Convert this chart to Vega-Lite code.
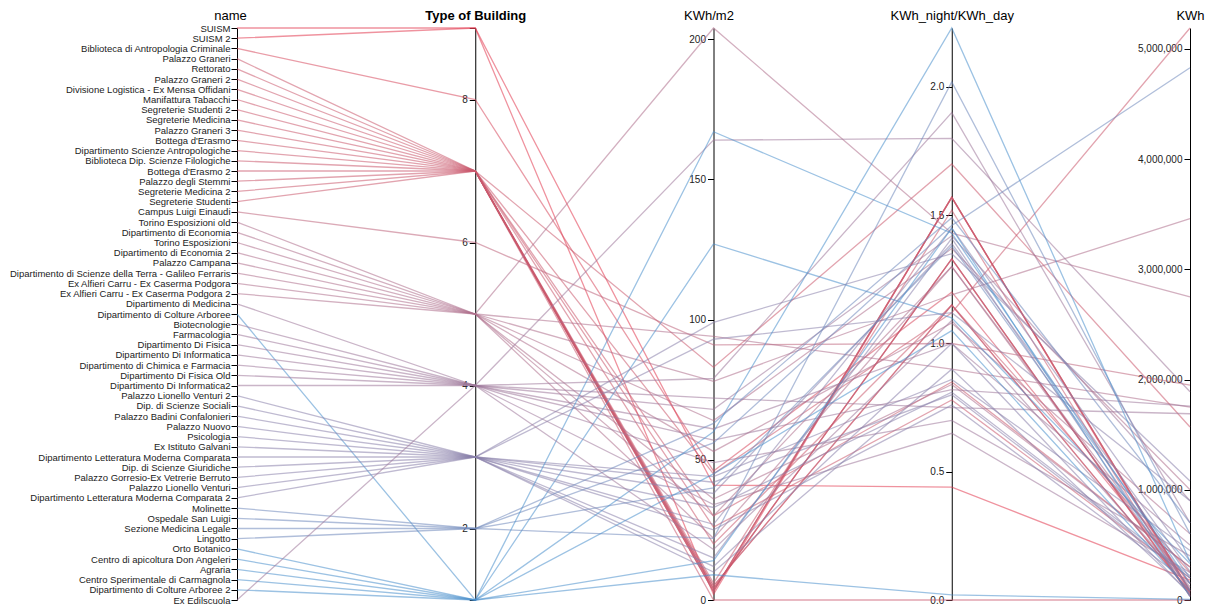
{
  "$schema": "https://vega.github.io/schema/vega-lite/v6.json",
  "autosize": "none",
  "width": 953,
  "height": 572,
  "padding": {"left": 237, "top": 28, "right": 20, "bottom": 4},
  "background": "white",
  "config": {
    "view": {"stroke": null},
    "font": "Liberation Sans",
    "axis": {"labelFont": "Liberation Sans", "titleFont": "Liberation Sans", "domainColor": "#000", "tickColor": "#000", "labelColor": "#222", "labelFontSize": 10, "labelLimit": 0, "tickSize": 6, "grid": false, "titleColor": "#000", "titleFontSize": 13, "titleFontWeight": "normal", "titleAngle": 0, "titleX": 0, "titleY": -6, "titleAlign": "center", "titleBaseline": "bottom", "labelPadding": 2}
  },
  "data": {"values": [
    {"name": "SUISM", "Type of Building": 9, "KWh/m2": 2, "KWh_night/KWh_day": 1.57, "KWh": 60000},
    {"name": "SUISM 2", "Type of Building": 9, "KWh/m2": 41, "KWh_night/KWh_day": 0.44, "KWh": 180000},
    {"name": "Biblioteca di Antropologia Criminale", "Type of Building": 8, "KWh/m2": 46, "KWh_night/KWh_day": 1.2, "KWh": 150000},
    {"name": "Palazzo Graneri", "Type of Building": 7, "KWh/m2": 3, "KWh_night/KWh_day": 1.57, "KWh": 80000},
    {"name": "Rettorato", "Type of Building": 7, "KWh/m2": 83, "KWh_night/KWh_day": 1.7, "KWh": 1570000},
    {"name": "Palazzo Graneri 2", "Type of Building": 7, "KWh/m2": 3, "KWh_night/KWh_day": 1.57, "KWh": 80000},
    {"name": "Divisione Logistica - Ex Mensa Offidani", "Type of Building": 7, "KWh/m2": 20, "KWh_night/KWh_day": 1.15, "KWh": 250000},
    {"name": "Manifattura Tabacchi", "Type of Building": 7, "KWh/m2": 45, "KWh_night/KWh_day": 1.12, "KWh": 5190000},
    {"name": "Segreterie Studenti 2", "Type of Building": 7, "KWh/m2": 4, "KWh_night/KWh_day": 1.33, "KWh": 50000},
    {"name": "Segreterie Medicina", "Type of Building": 7, "KWh/m2": 5, "KWh_night/KWh_day": 1.15, "KWh": 70000},
    {"name": "Palazzo Graneri 3", "Type of Building": 7, "KWh/m2": 3, "KWh_night/KWh_day": 1.57, "KWh": 80000},
    {"name": "Bottega d'Erasmo", "Type of Building": 7, "KWh/m2": 4, "KWh_night/KWh_day": 1.33, "KWh": 40000},
    {"name": "Dipartimento Scienze Antropologiche", "Type of Building": 7, "KWh/m2": 30, "KWh_night/KWh_day": 0.85, "KWh": 300000},
    {"name": "Biblioteca Dip. Scienze Filologiche", "Type of Building": 7, "KWh/m2": 6, "KWh_night/KWh_day": 1.52, "KWh": 30000},
    {"name": "Bottega d'Erasmo 2", "Type of Building": 7, "KWh/m2": 4, "KWh_night/KWh_day": 1.33, "KWh": 40000},
    {"name": "Palazzo degli Stemmi", "Type of Building": 7, "KWh/m2": 26, "KWh_night/KWh_day": 0.78, "KWh": 200000},
    {"name": "Segreterie Medicina 2", "Type of Building": 7, "KWh/m2": 5, "KWh_night/KWh_day": 1.15, "KWh": 70000},
    {"name": "Segreterie Studenti", "Type of Building": 7, "KWh/m2": 0, "KWh_night/KWh_day": 0, "KWh": 0},
    {"name": "Campus Luigi Einaudi", "Type of Building": 6, "KWh/m2": 91, "KWh_night/KWh_day": 1.0, "KWh": 1950000},
    {"name": "Torino Esposizioni old", "Type of Building": 5, "KWh/m2": 204, "KWh_night/KWh_day": 1.43, "KWh": 2750000},
    {"name": "Dipartimento di Economia", "Type of Building": 5, "KWh/m2": 94, "KWh_night/KWh_day": 0.9, "KWh": 1750000},
    {"name": "Torino Esposizioni", "Type of Building": 5, "KWh/m2": 78, "KWh_night/KWh_day": 1.19, "KWh": 3460000},
    {"name": "Dipartimento di Economia 2", "Type of Building": 5, "KWh/m2": 64, "KWh_night/KWh_day": 1.37, "KWh": 1000000},
    {"name": "Palazzo Campana", "Type of Building": 5, "KWh/m2": 36, "KWh_night/KWh_day": 0.84, "KWh": 300000},
    {"name": "Dipartimento di Scienze della Terra - Galileo Ferraris", "Type of Building": 5, "KWh/m2": 53, "KWh_night/KWh_day": 1.08, "KWh": 600000},
    {"name": "Ex Alfieri Carru - Ex Caserma Podgora", "Type of Building": 5, "KWh/m2": 22, "KWh_night/KWh_day": 1.3, "KWh": 150000},
    {"name": "Ex Alfieri Carru - Ex Caserma Podgora 2", "Type of Building": 5, "KWh/m2": 30, "KWh_night/KWh_day": 1.3, "KWh": 100000},
    {"name": "Dipartimento di Medicina", "Type of Building": 4, "KWh/m2": 164, "KWh_night/KWh_day": 1.8, "KWh": 1890000},
    {"name": "Dipartimento di Colture Arboree", "Type of Building": 1, "KWh/m2": 127, "KWh_night/KWh_day": 1.1, "KWh": 330000},
    {"name": "Biotecnologie", "Type of Building": 4, "KWh/m2": 68, "KWh_night/KWh_day": 1.42, "KWh": 900000},
    {"name": "Farmacologia", "Type of Building": 4, "KWh/m2": 79, "KWh_night/KWh_day": 1.9, "KWh": 700000},
    {"name": "Dipartimento Di Fisica", "Type of Building": 4, "KWh/m2": 72, "KWh_night/KWh_day": 0.75, "KWh": 1690000},
    {"name": "Dipartimento Di Informatica", "Type of Building": 4, "KWh/m2": 61, "KWh_night/KWh_day": 1.0, "KWh": 500000},
    {"name": "Dipartimento di Chimica e Farmacia", "Type of Building": 4, "KWh/m2": 57, "KWh_night/KWh_day": 0.82, "KWh": 1760000},
    {"name": "Dipartimento Di Fisica Old", "Type of Building": 4, "KWh/m2": 49, "KWh_night/KWh_day": 0.7, "KWh": 400000},
    {"name": "Dipartimento Di Informatica2", "Type of Building": 4, "KWh/m2": 34, "KWh_night/KWh_day": 0.65, "KWh": 250000},
    {"name": "Palazzo Lionello Venturi 2", "Type of Building": 3, "KWh/m2": 42, "KWh_night/KWh_day": 0.8, "KWh": 200000},
    {"name": "Dip. di Scienze Sociali", "Type of Building": 3, "KWh/m2": 27, "KWh_night/KWh_day": 1.45, "KWh": 350000},
    {"name": "Palazzo Badini Confalonieri", "Type of Building": 3, "KWh/m2": 38, "KWh_night/KWh_day": 1.39, "KWh": 260000},
    {"name": "Palazzo Nuovo", "Type of Building": 3, "KWh/m2": 93, "KWh_night/KWh_day": 1.12, "KWh": 900000},
    {"name": "Psicologia", "Type of Building": 3, "KWh/m2": 44, "KWh_night/KWh_day": 0.86, "KWh": 450000},
    {"name": "Ex Istituto Galvani", "Type of Building": 3, "KWh/m2": 15, "KWh_night/KWh_day": 1.41, "KWh": 90000},
    {"name": "Dipartimento Letteratura Moderna Comparata", "Type of Building": 3, "KWh/m2": 10, "KWh_night/KWh_day": 0.9, "KWh": 60000},
    {"name": "Dip. di Scienze Giuridiche", "Type of Building": 3, "KWh/m2": 99, "KWh_night/KWh_day": 1.35, "KWh": 1080000},
    {"name": "Palazzo Gorresio-Ex Vetrerie Berruto", "Type of Building": 3, "KWh/m2": 25, "KWh_night/KWh_day": 0.76, "KWh": 150000},
    {"name": "Palazzo Lionello Venturi", "Type of Building": 3, "KWh/m2": 33, "KWh_night/KWh_day": 0.81, "KWh": 220000},
    {"name": "Dipartimento Letteratura Moderna Comparata 2", "Type of Building": 3, "KWh/m2": 12, "KWh_night/KWh_day": 1.0, "KWh": 50000},
    {"name": "Molinette", "Type of Building": 2, "KWh/m2": 56, "KWh_night/KWh_day": 1.46, "KWh": 4830000},
    {"name": "Ospedale San Luigi", "Type of Building": 2, "KWh/m2": 63, "KWh_night/KWh_day": 1.49, "KWh": 700000},
    {"name": "Sezione Medicina Legale", "Type of Building": 2, "KWh/m2": 40, "KWh_night/KWh_day": 1.38, "KWh": 200000},
    {"name": "Lingotto", "Type of Building": 2, "KWh/m2": 22, "KWh_night/KWh_day": 2.02, "KWh": 600000},
    {"name": "Orto Botanico", "Type of Building": 1, "KWh/m2": 167, "KWh_night/KWh_day": 1.43, "KWh": 150000},
    {"name": "Centro di apicoltura Don Angeleri", "Type of Building": 1, "KWh/m2": 9, "KWh_night/KWh_day": 0.02, "KWh": 5000},
    {"name": "Agraria", "Type of Building": 1, "KWh/m2": 60, "KWh_night/KWh_day": 2.23, "KWh": 350000},
    {"name": "Centro Sperimentale di Carmagnola", "Type of Building": 1, "KWh/m2": 14, "KWh_night/KWh_day": 1.45, "KWh": 30000},
    {"name": "Dipartimento di Colture Arboree 2", "Type of Building": 1, "KWh/m2": 45, "KWh_night/KWh_day": 1.05, "KWh": 80000},
    {"name": "Ex Edilscuola", "Type of Building": 4, "KWh/m2": 18, "KWh_night/KWh_day": 1.09, "KWh": 120000}
  ]},
  "layer": [
    {
      "transform": [
        {"window": [{"op": "row_number", "as": "idx"}]},
        {"joinaggregate": [{"op": "count", "as": "n"}]},
        {"calculate": "(datum.n - datum.idx) / (datum.n - 1)", "as": "nameRank"},
        {"fold": ["nameRank", "Type of Building", "KWh/m2", "KWh_night/KWh_day", "KWh"], "as": ["dim", "val"]},
        {"joinaggregate": [{"op": "min", "field": "val", "as": "lo"}, {"op": "max", "field": "val", "as": "hi"}], "groupby": ["dim"]},
        {"calculate": "(datum.val - datum.lo) / (datum.hi - datum.lo)", "as": "norm"}
      ],
      "mark": {"type": "line", "strokeWidth": 1.3, "opacity": 0.55},
      "encoding": {
        "x": {"field": "dim", "type": "nominal", "scale": {"type": "point", "padding": 0, "domain": ["nameRank", "Type of Building", "KWh/m2", "KWh_night/KWh_day", "KWh"]}, "axis": null},
        "y": {"field": "norm", "type": "quantitative", "scale": {"domain": [0, 1], "nice": false, "zero": false}, "axis": null},
        "detail": {"field": "name", "type": "nominal"},
        "color": {"field": "Type of Building", "type": "quantitative", "scale": {"range": ["#4a90cc", "#e2384f"], "interpolate": "lab"}, "legend": null}
      }
    },
    {
      "mark": {"type": "point", "opacity": 0},
      "encoding": {
        "y": {"field": "name", "type": "nominal", "sort": null, "scale": {"type": "point", "padding": 0}, "axis": {"orient": "left", "title": "name", "offset": 0, "labelFontSize": 9.5, "labelPadding": 1, "labelLimit": 0, "titleX": -7}}
      }
    },
    {
      "mark": {"type": "point", "opacity": 0},
      "encoding": {
        "y": {"field": "Type of Building", "type": "quantitative", "scale": {"zero": false, "nice": false}, "axis": {"orient": "left", "title": "Type of Building", "titleFontWeight": "bold", "offset": -238.25, "values": [1, 2, 4, 6, 8, 9], "labelExpr": "datum.value == 1 || datum.value == 9 ? '' : format(datum.value, 'd')"}}
      }
    },
    {
      "mark": {"type": "point", "opacity": 0},
      "encoding": {
        "y": {"field": "KWh/m2", "type": "quantitative", "scale": {"zero": false, "nice": false}, "axis": {"orient": "left", "title": "KWh/m2", "titleX": -5, "offset": -476.5, "values": [0, 50, 100, 150, 200], "labelExpr": "format(datum.value, 'd')"}}
      }
    },
    {
      "mark": {"type": "point", "opacity": 0},
      "encoding": {
        "y": {"field": "KWh_night/KWh_day", "type": "quantitative", "scale": {"zero": false, "nice": false}, "axis": {"orient": "left", "title": "KWh_night/KWh_day", "offset": -714.75, "values": [0, 0.5, 1, 1.5, 2], "labelExpr": "format(datum.value, '.1f')"}}
      }
    },
    {
      "mark": {"type": "point", "opacity": 0},
      "encoding": {
        "y": {"field": "KWh", "type": "quantitative", "scale": {"zero": false, "nice": false}, "axis": {"orient": "left", "title": "KWh", "offset": -953, "values": [0, 1000000, 2000000, 3000000, 4000000, 5000000], "labelExpr": "format(datum.value, ',')"}}
      }
    }
  ],
  "resolve": {"scale": {"y": "independent", "color": "shared"}, "axis": {"y": "independent"}}
}
